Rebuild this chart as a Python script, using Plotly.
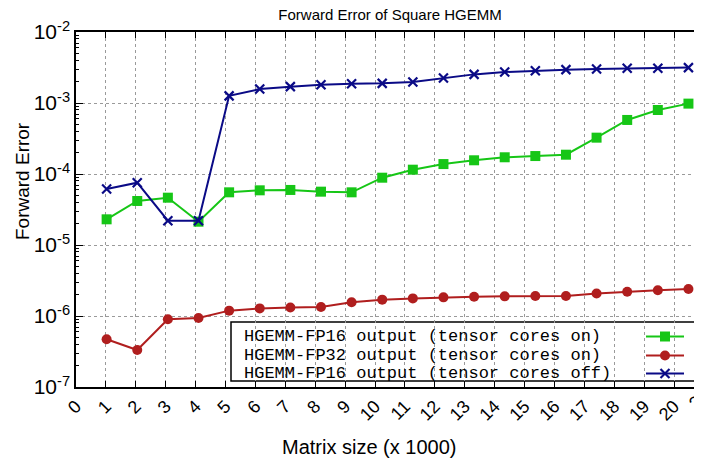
import plotly.graph_objects as go

# ---- data ----
matrix_size_k = [1.024, 2.048, 3.072, 4.096, 5.12, 6.144, 7.168, 8.192, 9.216, 10.24,
                 11.264, 12.288, 13.312, 14.336, 15.36, 16.384, 17.408, 18.432, 19.456, 20.48]
fp16_tc_on = [2.30e-5, 4.17e-5, 4.64e-5, 2.13e-5, 5.52e-5, 5.89e-5, 5.96e-5, 5.64e-5, 5.52e-5, 8.87e-5,
              1.15e-4, 1.38e-4, 1.56e-4, 1.72e-4, 1.79e-4, 1.87e-4, 3.25e-4, 5.77e-4, 7.97e-4, 9.8e-4]
fp32_tc_on = [4.70e-7, 3.32e-7, 8.98e-7, 9.37e-7, 1.19e-6, 1.28e-6, 1.32e-6, 1.34e-6, 1.56e-6, 1.70e-6,
              1.77e-6, 1.83e-6, 1.87e-6, 1.89e-6, 1.91e-6, 1.91e-6, 2.08e-6, 2.20e-6, 2.30e-6, 2.40e-6]
fp16_tc_off = [6.15e-5, 7.55e-5, 2.20e-5, 2.20e-5, 1.26e-3, 1.57e-3, 1.70e-3, 1.81e-3, 1.87e-3, 1.89e-3,
               1.98e-3, 2.25e-3, 2.53e-3, 2.73e-3, 2.85e-3, 2.95e-3, 3.01e-3, 3.08e-3, 3.08e-3, 3.15e-3]
series_names = ["HGEMM-FP16 output (tensor cores on)",
                "HGEMM-FP32 output (tensor cores on)",
                "HGEMM-FP16 output (tensor cores off)"]
x_tick_vals = list(range(0, 21))
y_exponents = [-7, -6, -5, -4, -3, -2]

GREEN = "#16c616"
RED = "#b01e1e"
BLUE = "#0a0a86"

# page body has an 8px margin: figure coords = screen coords - 8
OFF = 8
W, H = 702, 460
SCR_L, SCR_R, SCR_T, SCR_B = 76, 701, 32, 387   # plot area on screen
ML, MT = SCR_L - OFF, SCR_T - OFF
MR = W - (SCR_R - OFF)
MB = H - (SCR_B - OFF)
PW, PH = SCR_R - SCR_L, SCR_B - SCR_T


def px_x(p):
    return (p - SCR_L) / PW


def px_y(p):
    return (SCR_B - p) / PH


fig = go.Figure()
styles = [
    dict(color=GREEN, symbol="square", size=10, lw=0),
    dict(color=RED, symbol="circle", size=10, lw=0),
    dict(color=BLUE, symbol="x-thin", size=9, lw=2.2),
]
series = [fp16_tc_on, fp32_tc_on, fp16_tc_off]
for name, ys, st in zip(series_names, series, styles):
    fig.add_trace(go.Scatter(
        x=matrix_size_k, y=ys, name=name, mode="lines+markers",
        line=dict(color=st["color"], width=2),
        marker=dict(symbol=st["symbol"], size=st["size"], color=st["color"],
                    line=dict(color=st["color"], width=st["lw"])),
        showlegend=False, cliponaxis=False,
    ))

# ---- manual gnuplot-style legend (text left, key sample right) ----
fig.add_shape(type="rect", xref="paper", yref="paper",
              x0=px_x(231), x1=px_x(695), y0=px_y(381), y1=px_y(322),
              line=dict(color="black", width=1.5), fillcolor="white", layer="between")
row_y = [336.5, 355.5, 373.5]
for name, ry in zip(series_names, row_y):
    fig.add_annotation(xref="paper", yref="paper", x=px_x(242), y=px_y(ry),
                       xanchor="left", yanchor="middle", showarrow=False, text=name,
                       font=dict(family="Liberation Mono", size=17, color="black"))

KX0, KXC, KX1 = 646, 665, 684
for ry, st in zip(row_y, styles):
    c = st["color"]
    fig.add_shape(type="line", xref="paper", yref="paper", x0=px_x(KX0), x1=px_x(KX1),
                  y0=px_y(ry), y1=px_y(ry), line=dict(color=c, width=2), layer="above")
    if st["symbol"] == "square":
        fig.add_shape(type="rect", xref="paper", yref="paper",
                      x0=px_x(KXC - 5), x1=px_x(KXC + 5), y0=px_y(ry + 5), y1=px_y(ry - 5),
                      line=dict(width=0), fillcolor=c, layer="above")
    elif st["symbol"] == "circle":
        fig.add_shape(type="circle", xref="paper", yref="paper",
                      x0=px_x(KXC - 5), x1=px_x(KXC + 5), y0=px_y(ry + 5), y1=px_y(ry - 5),
                      line=dict(width=0), fillcolor=c, layer="above")
    else:
        for dy in (-1, 1):
            fig.add_shape(type="line", xref="paper", yref="paper",
                          x0=px_x(KXC - 4.5), x1=px_x(KXC + 4.5),
                          y0=px_y(ry - 4.5 * dy), y1=px_y(ry + 4.5 * dy),
                          line=dict(color=c, width=2.2), layer="above")

# ---- axes ----
minor_vals = [k * 10.0 ** e for e in range(-7, -2) for k in range(2, 10)]
fig.update_xaxes(
    range=[0, 20.9], tickmode="array", tickvals=x_tick_vals,
    ticktext=[str(v) for v in x_tick_vals], tickangle=-45,
    ticks="inside", ticklen=6, tickwidth=1.2, tickcolor="black",
    showline=True, linecolor="black", linewidth=1.5, mirror="ticks",
    showgrid=True, gridcolor="#9a9a9a", griddash="dot", gridwidth=1,
    zeroline=False, automargin=False,
    tickfont=dict(family="Liberation Sans", size=18, color="black"),
)
fig.update_yaxes(
    type="log", range=[-7, -2], tickmode="array",
    tickvals=[10.0 ** e for e in y_exponents],
    ticktext=[f"10<sup>{e}</sup>" for e in y_exponents],
    ticks="inside", ticklen=7, tickwidth=1.2, tickcolor="black",
    showline=True, linecolor="black", linewidth=1.5, mirror="ticks",
    showgrid=True, gridcolor="#9a9a9a", griddash="dot", gridwidth=1,
    zeroline=False, automargin=False,
    minor=dict(tickmode="array", tickvals=minor_vals, ticks="inside", ticklen=3,
               tickcolor="black", tickwidth=1, showgrid=False),
    tickfont=dict(family="Liberation Sans", size=21, color="black"),
)

# "21" label at clipped right edge
fig.add_annotation(xref="paper", yref="paper", x=px_x(699), y=px_y(399),
                   text="21", textangle=-45, showarrow=False, xanchor="center", yanchor="middle",
                   font=dict(family="Liberation Sans", size=18, color="black"))

# axis titles
fig.add_annotation(xref="paper", yref="paper", x=px_x(369), y=px_y(447),
                   text="Matrix size (x 1000)", showarrow=False, xanchor="center", yanchor="middle",
                   font=dict(family="Liberation Sans", size=20, color="black"))
fig.add_annotation(xref="paper", yref="paper", x=px_x(22), y=px_y(181),
                   text="Forward Error", textangle=-90, showarrow=False,
                   xanchor="center", yanchor="middle",
                   font=dict(family="Liberation Sans", size=19, color="black"))

fig.update_layout(
    width=W, height=H, autosize=False,
    margin=dict(l=ML, r=MR, t=MT, b=MB, pad=0),
    paper_bgcolor="white", plot_bgcolor="white",
    title=dict(text="Forward Error of Square HGEMM", x=px_x(390), xref="paper",
               y=1 - (14.5 - OFF) / H, yref="container", xanchor="center", yanchor="middle",
               font=dict(family="Liberation Sans", size=15, color="black")),
    showlegend=False,
)

fig.write_html("out.html")
